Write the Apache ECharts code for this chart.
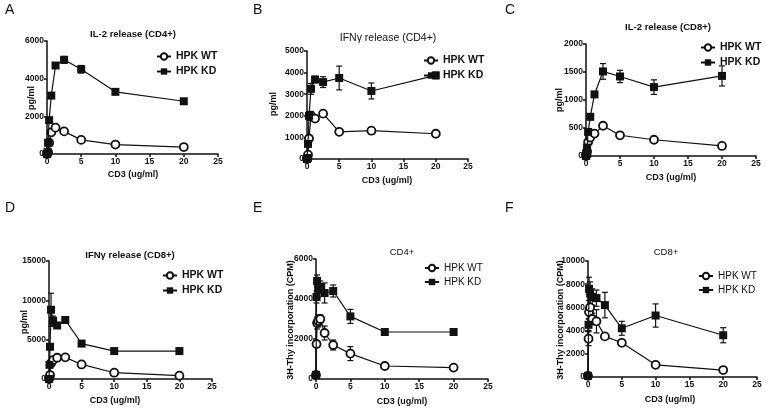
<!DOCTYPE html>
<html><head><meta charset="utf-8">
<script src="https://cdn.jsdelivr.net/npm/echarts@6/dist/echarts.min.js"></script>
<style>html,body{margin:0;padding:0;background:#fff}#c{width:766px;height:410px}</style>
</head><body><div id="c"></div>
<script>
// Shared CD3 concentrations (ug/ml)
const doses = [0, 0.078, 0.156, 0.3125, 0.625, 1.25, 2.5, 5, 10, 20];
const xTicks = [0, 5, 10, 15, 20, 25];

// A: IL-2 release (CD4+)
const aWT = [0, 30, 100, 600, 1150, 1400, 1200, 750, 500, 370];
const aKD = [0, 100, 600, 1800, 3100, 4700, 5000, 4500, 3300, 2800];
const aWTerr = [0, 0, 0, 0, 50, 80, 60, 40, 30, 20];
const aKDerr = [0, 0, 0, 0, 80, 100, 180, 200, 60, 50];
// B: IFNγ release (CD4+)
const bWT = [0, 30, 200, 950, 2000, 1870, 2100, 1260, 1310, 1170];
const bKD = [0, 50, 700, 2000, 3250, 3680, 3560, 3750, 3150, 3870];
const bWTerr = [0, 0, 0, 80, 200, 60, 150, 60, 150, 130];
const bKDerr = [0, 0, 0, 200, 250, 150, 250, 550, 370, 150];
// C: IL-2 release (CD8+)
const cWT = [0, 20, 80, 250, 330, 400, 540, 370, 290, 180];
const cKD = [0, 50, 150, 430, 700, 1100, 1510, 1420, 1230, 1430];
const cWTerr = [0, 0, 0, 20, 30, 20, 30, 20, 15, 15];
const cKDerr = [0, 0, 0, 30, 50, 50, 140, 110, 130, 180];
// D: IFNγ release (CD8+)
const dWT = [0, 200, 500, 2000, 2400, 2700, 2750, 1850, 800, 420];
const dKD = [0, 1800, 4100, 8800, 7400, 6800, 7500, 4500, 3550, 3550];
const dWTerr = [0, 0, 0, 200, 300, 200, 200, 100, 100, 50];
const dKDerr = [0, 0, 0, 2100, 600, 300, 400, 100, 100, 100];
// E: 3H-Thy incorporation CD4+
const eWT = [200, 1750, 2800, 2900, 3000, 2300, 1700, 1270, 650, 570];
const eKD = [200, 4100, 4900, 4500, 4600, 4300, 4400, 3130, 2350, 2350];
const eWTerr = [0, 150, 300, 300, 200, 350, 250, 350, 80, 50];
const eKDerr = [0, 300, 300, 400, 300, 500, 300, 350, 50, 50];
// F: 3H-Thy incorporation CD8+
const fWT = [100, 3300, 5600, 6000, 5000, 4800, 3500, 2950, 1050, 600];
const fKD = [100, 4500, 7600, 7200, 6900, 6800, 6200, 4200, 5300, 3600];
const fWTerr = [0, 600, 600, 600, 500, 1000, 100, 200, 100, 50];
const fKDerr = [0, 500, 1000, 1000, 700, 700, 1100, 600, 1000, 650];

const seriesNames = ['HPK WT', 'HPK KD'];
const yMax = [6000, 5000, 2000, 15000, 6000, 10000];
const yStep = [2000, 1000, 500, 5000, 2000, 2000];

const panels = [
  {wt:aWT, kd:aKD, wte:aWTerr, kde:aKDerr, grid:{left:47,top:41,width:171,height:113},
   title:'IL-2 release (CD4+)', tpos:[133,34], tFont:'bold 9.5px ', letter:'A', lpos:[5,10],
   yname:'pg/ml', ypos:[32,98], xpos:[133,175], leg:{left:151,top:46}, legBold:true},
  {wt:bWT, kd:bKD, wte:bWTerr, kde:bKDerr, grid:{left:307,top:51,width:161,height:108},
   title:'IFNγ release (CD4+)', tpos:[388,38], tFont:'10.5px ', letter:'B', lpos:[253,10],
   yname:'pg/ml', ypos:[274,104], xpos:[387,181], leg:{left:418,top:50}, legBold:true},
  {wt:cWT, kd:cKD, wte:cWTerr, kde:cKDerr, grid:{left:586,top:44,width:170,height:112},
   title:'IL-2 release (CD8+)', tpos:[668,27], tFont:'bold 9.5px ', letter:'C', lpos:[505,10],
   yname:'pg/ml', ypos:[560,100], xpos:[671,178], leg:{left:695,top:37}, legBold:true},
  {wt:dWT, kd:dKD, wte:dWTerr, kde:dKDerr, grid:{left:49,top:261,width:163,height:118},
   title:'IFNγ release (CD8+)', tpos:[130,255], tFont:'bold 9.5px ', letter:'D', lpos:[5,208],
   yname:'pg/ml', ypos:[25,322], xpos:[115,401], leg:{left:157,top:265}, legBold:true},
  {wt:eWT, kd:eKD, wte:eWTerr, kde:eKDerr, grid:{left:316,top:259,width:172,height:120},
   title:'CD4+', tpos:[402,252], tFont:'9.5px ', letter:'E', lpos:[253,208],
   yname:'3H-Thy incorporation (CPM)', ypos:[291,320], xpos:[402,402], leg:{left:419,top:258}, legBold:false},
  {wt:fWT, kd:fKD, wte:fWTerr, kde:fKDerr, grid:{left:588,top:261,width:169,height:116},
   title:'CD8+', tpos:[666,252], tFont:'9.5px ', letter:'F', lpos:[505,208],
   yname:'3H-Thy incorporation (CPM)', ypos:[561,320], xpos:[670,400], leg:{left:693,top:266}, legBold:false}
];

const FF = '"Liberation Sans", Arial, sans-serif';
const grids = [], xAxes = [], yAxes = [], series = [], legends = [], graphics = [];

function errData(vals, errs) {
  const out = [];
  doses.forEach((d, i) => { if (errs[i] > 0) out.push([d, vals[i] - errs[i], vals[i] + errs[i]]); });
  return out;
}
function renderErr(params, api) {
  const p1 = api.coord([api.value(0), api.value(1)]);
  const p2 = api.coord([api.value(0), api.value(2)]);
  const w = 3;
  const st = {stroke:'#111', lineWidth:1.2};
  return {type:'group', children:[
    {type:'line', shape:{x1:p1[0],y1:p1[1],x2:p2[0],y2:p2[1]}, style:st},
    {type:'line', shape:{x1:p1[0]-w,y1:p1[1],x2:p1[0]+w,y2:p1[1]}, style:st},
    {type:'line', shape:{x1:p2[0]-w,y1:p2[1],x2:p2[0]+w,y2:p2[1]}, style:st}
  ]};
}

panels.forEach((p, i) => {
  grids.push(p.grid);
  const axisCommon = {
    axisLine:{show:true, onZero:false, lineStyle:{color:'#111', width:1.5}},
    axisTick:{show:true, inside:false, length:3, lineStyle:{color:'#111', width:1.5}},
    splitLine:{show:false},
    axisLabel:{color:'#111', fontFamily:FF, fontSize:8.5, fontWeight:'bold', margin:3,
      formatter: v => String(v)}
  };
  xAxes.push(Object.assign({type:'value', gridIndex:i, min:xTicks[0], max:xTicks[xTicks.length-1], interval:5}, axisCommon));
  yAxes.push(Object.assign({type:'value', gridIndex:i, min:0, max:yMax[i], interval:yStep[i]}, axisCommon));
  const lineStyle = {color:'#111', width:1.2};
  series.push({name:seriesNames[0], type:'line', xAxisIndex:i, yAxisIndex:i,
    data: doses.map((d, k) => [d, p.wt[k]]), symbol:'circle', symbolSize:8,
    itemStyle:{color:'#fff', borderColor:'#111', borderWidth:1.8}, lineStyle, z:3, animation:false});
  series.push({name:seriesNames[1], type:'line', xAxisIndex:i, yAxisIndex:i,
    data: doses.map((d, k) => [d, p.kd[k]]), symbol:'rect', symbolSize:8,
    itemStyle:{color:'#111', borderColor:'#111', borderWidth:0}, lineStyle, z:4, animation:false});
  series.push({type:'custom', xAxisIndex:i, yAxisIndex:i, renderItem:renderErr,
    data: errData(p.wt, p.wte), encode:{x:0, y:[1,2]}, z:2, animation:false, silent:true});
  series.push({type:'custom', xAxisIndex:i, yAxisIndex:i, renderItem:renderErr,
    data: errData(p.kd, p.kde), encode:{x:0, y:[1,2]}, z:2, animation:false, silent:true});
  legends.push({data:seriesNames, orient:'vertical', left:p.leg.left, top:p.leg.top,
    itemWidth:14, itemHeight:8, itemGap:4, selectedMode:false,
    textStyle:{color:'#111', fontFamily:FF, fontSize:p.legBold?10.5:10, fontWeight:p.legBold?'bold':'normal'}});
  graphics.push({type:'text', x:p.tpos[0], y:p.tpos[1], style:{text:p.title, font:p.tFont+FF, fill:'#111', textAlign:'center', textVerticalAlign:'middle'}});
  graphics.push({type:'text', x:p.lpos[0], y:p.lpos[1], style:{text:p.letter, font:'14px '+FF, fill:'#111', textAlign:'left', textVerticalAlign:'middle'}});
  graphics.push({type:'text', x:p.xpos[0], y:p.xpos[1], style:{text:'CD3 (ug/ml)', font:'bold 9px '+FF, fill:'#111', textAlign:'center', textVerticalAlign:'middle'}});
  graphics.push({type:'text', x:p.ypos[0], y:p.ypos[1], rotation:Math.PI/2, style:{text:p.yname, font:'bold 9px '+FF, fill:'#111', textAlign:'center', textVerticalAlign:'middle'}});
});

const chart = echarts.init(document.getElementById('c'), null, {renderer:'canvas'});
chart.setOption({animation:false, backgroundColor:'#fff', grid:grids, xAxis:xAxes, yAxis:yAxes,
  series:series, legend:legends, graphic:graphics});
</script></body></html>
